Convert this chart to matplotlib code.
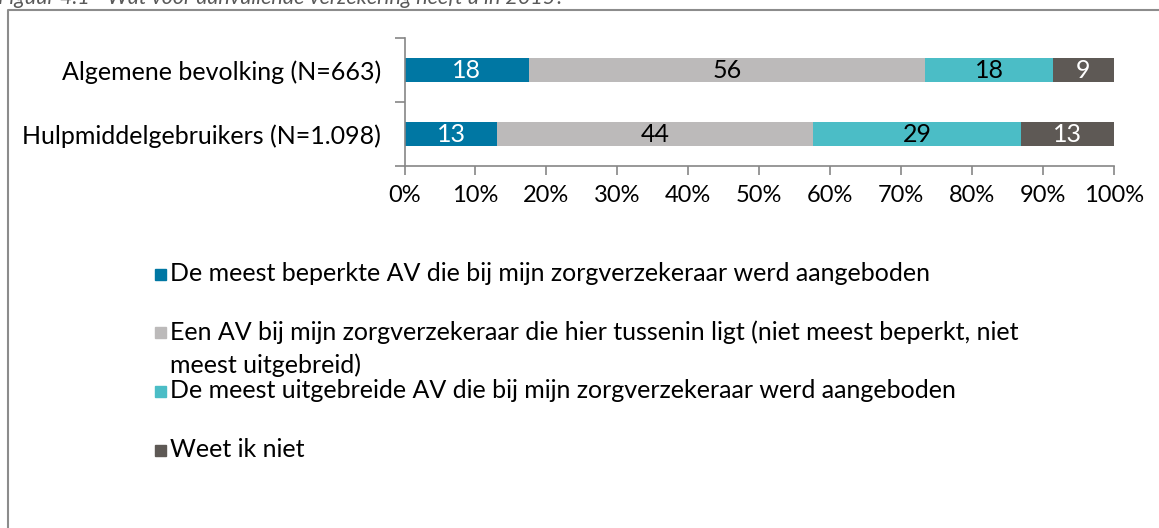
import matplotlib.pyplot as plt
from matplotlib.lines import Line2D
from matplotlib.patches import Rectangle

# data
groepen = ['Algemene bevolking (N=663)', 'Hulpmiddelgebruikers (N=1.098)']
reeksen = ['De meest beperkte AV die bij mijn zorgverzekeraar werd aangeboden',
           'Een AV bij mijn zorgverzekeraar die hier tussenin ligt (niet meest beperkt, niet\nmeest uitgebreid)',
           'De meest uitgebreide AV die bij mijn zorgverzekeraar werd aangeboden',
           'Weet ik niet']
waarden = [[18, 13],
           [56, 44],
           [18, 29],
           [9, 13]]
# werkelijke breedtes (percentages tellen op tot 100)
breedtes = [[17.6, 13.1],
            [55.8, 44.5],
            [18.0, 29.3],
            [8.6, 13.1]]
kleuren = ['#0077A3', '#BCBABA', '#4BBDC6', '#5E5955']
tekstkleur = ['white', 'black', 'black', 'white']
titel = 'Figuur 4.1 - Wat voor aanvullende verzekering heeft u in 2015?'

plt.rcParams['font.family'] = ['Lato', 'DejaVu Sans']
fs = 18

fig = plt.figure(figsize=(11.59, 5.28), dpi=100)
ax = fig.add_axes([404.5 / 1159, 1 - 166 / 528, 709.5 / 1159, 128 / 528])

ypos = [0, 1]
links = [0, 0]
for i in range(len(reeksen)):
    ax.barh(ypos, breedtes[i], left=links, height=0.39, color=kleuren[i])
    for j in range(len(groepen)):
        ax.text(links[j] + breedtes[i][j] / 2, ypos[j], str(waarden[i][j]),
                ha='center', va='center', fontsize=fs, color=tekstkleur[i])
    links = [links[j] + breedtes[i][j] for j in range(len(groepen))]

ax.set_xlim(0, 100)
ax.set_ylim(1.5, -0.5)
ax.set_xticks(range(0, 101, 10))
ax.set_xticklabels([f'{v}%' for v in range(0, 101, 10)], fontsize=17)
ax.set_yticks([-0.5, 0.5, 1.5])
ax.set_yticklabels([])
ax.set_yticks(ypos, minor=True)
ax.set_yticklabels(groepen, minor=True, fontsize=fs)
ax.tick_params(axis='y', which='minor', length=0, pad=17)
ax.tick_params(axis='y', which='major', length=7, width=1.2, color='#868686')
ax.tick_params(axis='x', length=6.5, width=1.2, color='#868686', pad=7)
for s in ['top', 'right']:
    ax.spines[s].set_visible(False)
for s in ['left', 'bottom']:
    ax.spines[s].set_color('#868686')
    ax.spines[s].set_linewidth(1.2)

# legenda (handmatig, zoals in het origineel)
legenda_y = [274, 332, 391, 450]
for i, naam in enumerate(reeksen):
    y = legenda_y[i]
    fig.patches.append(Rectangle((155 / 1159, 1 - (y + 6) / 528), 11 / 1159, 11 / 528,
                                 transform=fig.transFigure, color=kleuren[i]))
    fig.text(170 / 1159, 1 - (y - 12) / 528, naam, fontsize=fs, va='top',
             linespacing=1.5)

# kader
fig.add_artist(Line2D([8 / 1159, 8 / 1159, 1], [0, 1 - 10 / 528, 1 - 10 / 528],
                      transform=fig.transFigure, color='#8C8C8C', lw=1.5))
# afgesneden titel
fig.text(-2 / 1159, 1 - 4 / 528, titel, fontsize=15.5, style='italic',
         color='#595959', va='baseline')

fig.savefig('out.png', dpi=100)
